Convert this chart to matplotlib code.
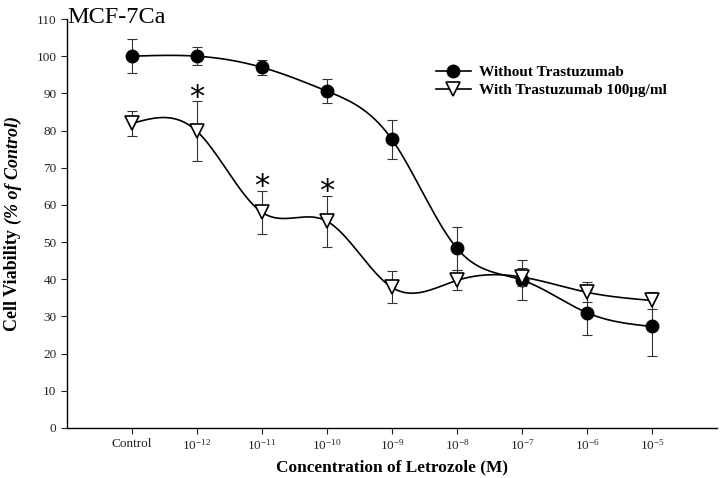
import numpy as np
import matplotlib
matplotlib.use("Agg")
import matplotlib.pyplot as plt

plt.rcParams['font.family'] = ['Liberation Serif', 'DejaVu Serif']
plt.rcParams['mathtext.fontset'] = 'custom'
plt.rcParams['mathtext.rm'] = 'Liberation Serif'
plt.rcParams['mathtext.default'] = 'regular'

# data
categories = ["Control", "$10^{-12}$", "$10^{-11}$", "$10^{-10}$", "$10^{-9}$",
              "$10^{-8}$", "$10^{-7}$", "$10^{-6}$", "$10^{-5}$"]
without_mean = [100.0, 100.0, 97.0, 90.6, 77.6, 48.3, 39.8, 31.0, 27.3]
without_err = [4.5, 2.4, 2.0, 3.2, 5.3, 5.8, 5.3, 6.1, 7.9]
with_mean = [81.9, 79.8, 58.0, 55.6, 37.8, 39.7, 40.6, 36.5, 34.3]
with_err = [3.3, 8.1, 5.8, 6.8, 4.3, 2.7, 2.3, 2.7, 2.3]
signif_idx = [1, 2, 3]

x = np.arange(len(categories))


def natural_spline(xs, ys, n=400):
    # natural cubic spline through the points, just for the smooth line
    xs = np.asarray(xs, float)
    ys = np.asarray(ys, float)
    k = len(xs)
    h = np.diff(xs)
    A = np.zeros((k, k))
    b = np.zeros(k)
    A[0, 0] = A[-1, -1] = 1
    for i in range(1, k - 1):
        A[i, i - 1] = h[i - 1]
        A[i, i] = 2 * (h[i - 1] + h[i])
        A[i, i + 1] = h[i]
        b[i] = 6 * ((ys[i + 1] - ys[i]) / h[i] - (ys[i] - ys[i - 1]) / h[i - 1])
    M = np.linalg.solve(A, b)
    xf = np.linspace(xs[0], xs[-1], n)
    j = np.clip(np.searchsorted(xs, xf) - 1, 0, k - 2)
    t0 = xs[j + 1] - xf
    t1 = xf - xs[j]
    hj = h[j]
    yf = (M[j] * t0**3 + M[j + 1] * t1**3) / (6 * hj) \
        + (ys[j] / hj - M[j] * hj / 6) * t0 + (ys[j + 1] / hj - M[j + 1] * hj / 6) * t1
    return xf, yf


fig = plt.figure(figsize=(7.24, 4.78), dpi=100)
ax = fig.add_axes([67 / 724, 1 - 428 / 478, 650 / 724, 409 / 478])

xs, ys = natural_spline(x, without_mean)
ax.plot(xs, ys, color='black', lw=1.2, zorder=2)
ax.errorbar(x, without_mean, yerr=without_err, fmt='none', ecolor='#333333',
            elinewidth=0.8, capsize=3.5, capthick=0.8, zorder=3)
ax.plot(x, without_mean, 'o', color='black', ms=9, zorder=4)

xs, ys = natural_spline(x, with_mean)
ax.plot(xs, ys, color='black', lw=1.2, zorder=5)
ax.errorbar(x, with_mean, yerr=with_err, fmt='none', ecolor='#333333',
            elinewidth=0.8, capsize=3.5, capthick=0.8, zorder=6)
ax.plot(x, with_mean, 'v', mfc='white', mec='black', mew=1.2, ms=9.5, zorder=7)

for i in signif_idx:
    ax.text(x[i], with_mean[i] + with_err[i] + 1.1, "*", ha='center', va='center',
            fontsize=22, family='DejaVu Sans')

# legend handles
h1, = ax.plot([], [], '-o', color='black', ms=9, lw=1.2)
h2, = ax.plot([], [], '-v', color='black', mfc='white', mew=1.2, ms=9.5, lw=1.2)
fig.legend([h1, h2], ["Without Trastuzumab", "With Trastuzumab 100\u03bcg/ml"],
           loc='upper left', bbox_to_anchor=(428 / 724, 1 - 58 / 478), frameon=False,
           prop={'weight': 'bold', 'size': 11}, handlelength=2.3,
           handletextpad=0.55, labelspacing=0.25, borderpad=0)

ax.set_xlim(-1, 9)
ax.set_ylim(0, 110)
ax.set_xticks(x)
ax.set_xticklabels(categories)
ax.set_yticks(np.arange(0, 111, 10))
ax.tick_params(axis='both', direction='out', length=4, width=0.8, labelsize=9.5,
               labelcolor='#222222', color='#222222')
ax.tick_params(axis='x', pad=3)
for s in ['top', 'right']:
    ax.spines[s].set_visible(False)
for s in ['left', 'bottom']:
    ax.spines[s].set_linewidth(1.0)

fig.text(67 / 724, 1 - 7 / 478, "MCF-7Ca", fontsize=17.5, ha='left', va='top')
fig.text(392 / 724, 1 - 467 / 478, "Concentration of Letrozole (M)", fontsize=12.4,
         fontweight='bold', ha='center', va='center')

# y label: regular bold + bold italic part
fig.canvas.draw()
renderer = fig.canvas.get_renderer()
ylx = 13 / 724
t1 = fig.text(ylx, 0, "Cell Viability ", rotation=90, fontsize=13,
              fontweight='bold', ha='center', va='bottom')
t2 = fig.text(ylx, 0, "(% of Control)", rotation=90, fontsize=13,
              fontweight='bold', style='italic', ha='center', va='bottom')
h1px = t1.get_window_extent(renderer).height
h2px = t2.get_window_extent(renderer).height
center = 1 - 223.5 / 478
y0 = center - (h1px + h2px) / 2 / fig.bbox.height
t1.set_position((ylx, y0))
t2.set_position((ylx, y0 + h1px / fig.bbox.height))

fig.savefig("out.png", dpi=100)
